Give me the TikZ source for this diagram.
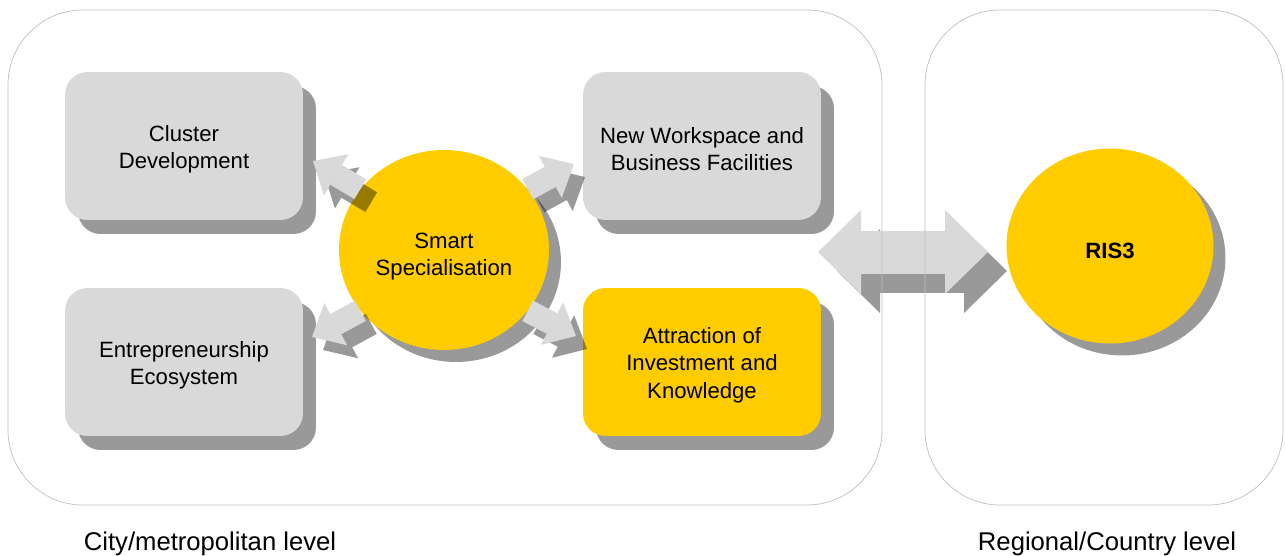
\documentclass[tikz,border=0pt]{standalone}
\usepackage{fontspec}
\setmainfont{Liberation Sans}
\usepackage{xcolor}
\usetikzlibrary{shapes.geometric,shadows,arrows.meta}

\definecolor{boxgrey}{HTML}{D9D9D9}
\definecolor{sunyellow}{HTML}{FFCC00}
\definecolor{framegrey}{HTML}{BFBFBF}

% taller first line pushes the text block down
\newcommand{\dropline}[1]{\rule{0pt}{#1}}

\begin{document}
\begin{tikzpicture}[x=0.02cm, y=-0.02cm,
    every node/.style={font=\fontsize{12.6}{15.4}\selectfont, align=center},
    topic/.style={rectangle, rounded corners=0.45cm, fill=boxgrey, inner sep=0pt,
        minimum width=4.76cm, minimum height=2.96cm,
        drop shadow={shadow xshift=0.26cm, shadow yshift=-0.28cm, fill=black, opacity=0.4}},
    focus/.style={ellipse, fill=sunyellow, inner sep=0pt,
        drop shadow={shadow xshift=0.24cm, shadow yshift=-0.24cm, fill=black, opacity=0.4}},
    level/.style={font=\fontsize{14.6}{17}\selectfont},
    small arrow/.style={line width=0.46cm,
        -{Triangle[length=0.54cm, width=0.96cm, line width=0pt]}},
    big arrow/.style={line width=0.86cm,
        {Triangle[length=0.86cm, width=1.68cm, line width=0pt]}-{Triangle[length=0.86cm, width=1.68cm, line width=0pt]}}]

    \useasboundingbox (0,0) rectangle (1285,555);

    % Link between the two levels
    \coordinate (linkL) at (818,252);
    \coordinate (linkR) at (988,252);
    \draw[big arrow, black!40, transform canvas={shift={(19,19)}}] (linkL) -- (linkR);
    \draw[big arrow, boxgrey] (linkL) -- (linkR);

    % City level boxes
    \node[topic] (cluster) at (184,146) {\dropline{12.8pt}Cluster\\Development};
    \node[topic] (workspace) at (702,146) {\dropline{12.8pt}New Workspace and\\Business Facilities};
    \node[topic] (ecosystem) at (184,362) {\dropline{12.8pt}Entrepreneurship\\Ecosystem};
    \node[topic, fill=sunyellow] (invest) at (702,362) {\dropline{12.8pt}Attraction of\\Investment and\\Knowledge};

    % Central circles
    \node[focus, minimum width=4.2cm, minimum height=4cm] (smart) at (444,250) {\dropline{16pt}Smart\\Specialisation};
    \node[focus, minimum width=4.14cm, minimum height=3.9cm] (ris) at (1110,246) {\dropline{14pt}\textbf{RIS3}};

    % Arrow ends near the boxes
    \coordinate (toCluster) at (313,161);
    \coordinate (toWork) at (574,164);
    \coordinate (toEco) at (312,337);
    \coordinate (toInvest) at (576,336);

    % Shadows of the small arrows
    \foreach \ang/\tgt in {144/toCluster, 36/toWork, 216/toEco, -36/toInvest}
        \draw[small arrow, black, opacity=0.4, transform canvas={shift={(11,13)}}] (smart.\ang) -- (\tgt);
    % Small arrows
    \foreach \ang/\tgt in {144/toCluster, 36/toWork, 216/toEco, -36/toInvest}
        \draw[small arrow, boxgrey] (smart.\ang) -- (\tgt);

    % Level frames
    \draw[framegrey, rounded corners=1.5cm] (8,10) rectangle (882,505);
    \draw[framegrey, rounded corners=1.5cm] (925,10) rectangle (1283,505);

    % Level labels
    \node[level] (citylevel) at (210,544) {City/metropolitan level};
    \node[level] (regionlevel) at (1107,544) {Regional/Country level};
\end{tikzpicture}
\end{document}
